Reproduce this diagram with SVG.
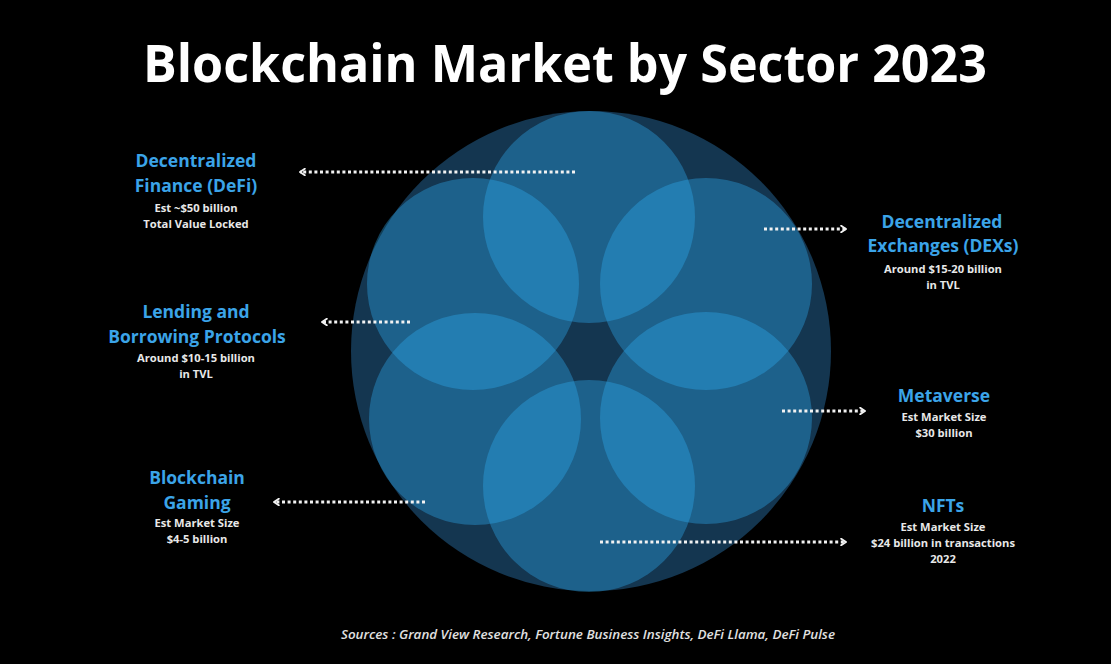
<svg xmlns="http://www.w3.org/2000/svg" width="1111" height="664" viewBox="0 0 1111 664">
<style>
.title{font-family:"Open Sans","Noto Sans",sans-serif;font-weight:700;fill:#ffffff;}
.head{font-family:"Open Sans","Noto Sans",sans-serif;font-weight:700;font-size:17.5px;fill:#3ba4e8;text-anchor:middle;}
.sub{font-family:"Open Sans","Noto Sans",sans-serif;font-weight:700;font-size:11.2px;fill:#e8e8e8;text-anchor:middle;}
.src{font-family:"Open Sans","Noto Sans",sans-serif;font-weight:600;font-style:italic;font-size:12.5px;fill:#e0e0e0;}
.dot{stroke:#f2f2f2;stroke-width:3;stroke-dasharray:3 2.6;fill:none;}
.petal{fill:#30aef5;fill-opacity:0.36;}
</style>
<defs>
<marker id="chev" viewBox="0 0 10 10" refX="8" refY="5" markerWidth="8" markerHeight="8" markerUnits="userSpaceOnUse" orient="auto">
<path d="M2,1 L8,5 L2,9" fill="none" stroke="#f2f2f2" stroke-width="2.4" stroke-linecap="round" stroke-linejoin="round"/>
</marker>
</defs>
<rect width="1111" height="664" fill="#000000"/>
<text class="title" x="565" y="82" font-size="52" text-anchor="middle" textLength="844" lengthAdjust="spacingAndGlyphs">Blockchain Market by Sector 2023</text>
<g id="flower">
<circle cx="591" cy="351" r="240" fill="#143650"/>
<circle class="petal" cx="589" cy="217" r="106"/>
<circle class="petal" cx="706" cy="284" r="106"/>
<circle class="petal" cx="706" cy="418" r="106"/>
<circle class="petal" cx="589" cy="486" r="106"/>
<circle class="petal" cx="475" cy="419" r="106"/>
<circle class="petal" cx="473" cy="284" r="106"/>
</g>
<g id="connectors">
<line class="dot" x1="575" y1="172" x2="300" y2="172" marker-end="url(#chev)"/>
<line class="dot" x1="410" y1="322" x2="322" y2="322" marker-end="url(#chev)"/>
<line class="dot" x1="425" y1="502" x2="274" y2="502" marker-end="url(#chev)"/>
<line class="dot" x1="764" y1="229" x2="846" y2="229" marker-end="url(#chev)"/>
<line class="dot" x1="782" y1="411" x2="865" y2="411" marker-end="url(#chev)"/>
<line class="dot" x1="600" y1="542" x2="846" y2="542" marker-end="url(#chev)"/>
</g>
<g id="defi">
<text class="head" x="196" y="167">Decentralized</text>
<text class="head" x="196" y="192">Finance (DeFi)</text>
<text class="sub" x="196" y="212">Est ~$50 billion</text>
<text class="sub" x="196" y="228">Total Value Locked</text>
</g>
<g id="lending">
<text class="head" x="196" y="318">Lending and</text>
<text class="head" x="197" y="343">Borrowing Protocols</text>
<text class="sub" x="196" y="362">Around $10-15 billion</text>
<text class="sub" x="196" y="378">in TVL</text>
</g>
<g id="gaming">
<text class="head" x="197" y="484">Blockchain</text>
<text class="head" x="197" y="509">Gaming</text>
<text class="sub" x="197" y="527">Est Market Size</text>
<text class="sub" x="197" y="543">$4-5 billion</text>
</g>
<g id="dex">
<text class="head" x="942" y="228">Decentralized</text>
<text class="head" x="943" y="252">Exchanges (DEXs)</text>
<text class="sub" x="943" y="273">Around $15-20 billion</text>
<text class="sub" x="943" y="289">in TVL</text>
</g>
<g id="metaverse">
<text class="head" x="944" y="402">Metaverse</text>
<text class="sub" x="944" y="421">Est Market Size</text>
<text class="sub" x="944" y="437">$30 billion</text>
</g>
<g id="nfts">
<text class="head" x="943" y="512">NFTs</text>
<text class="sub" x="943" y="531">Est Market Size</text>
<text class="sub" x="943" y="547">$24 billion in transactions</text>
<text class="sub" x="943" y="563">2022</text>
</g>
<text class="src" x="341" y="639" textLength="494" lengthAdjust="spacingAndGlyphs">Sources : Grand View Research, Fortune Business Insights, DeFi Llama, DeFi Pulse</text>
</svg>
